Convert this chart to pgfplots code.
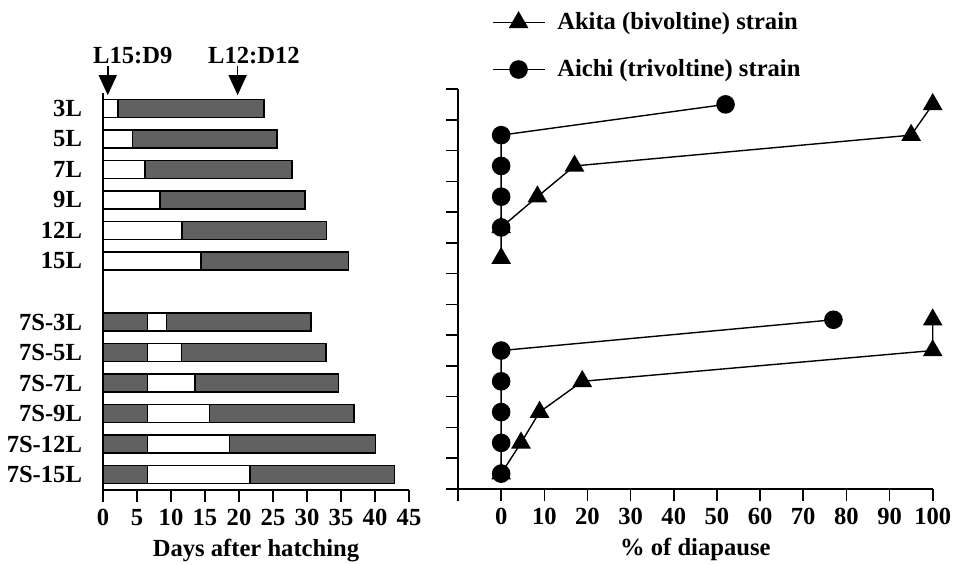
\documentclass[border=0pt]{standalone}
\usepackage{fontspec}
\setmainfont{Liberation Serif}
\usepackage{pgfplots}
\pgfplotsset{compat=1.18}
\usetikzlibrary{arrows.meta}

\definecolor{darkbar}{gray}{0.38}

\begin{document}
\begin{tikzpicture}[font=\fontsize{12.3}{14}\selectfont\bfseries]
\useasboundingbox (0,0) rectangle (487.5pt,282pt);

% Left panel: developmental time course of each photoperiod regime
\begin{axis}[
  at={(51.5pt,37pt)}, anchor=south west,
  scale only axis, width=153pt, height=198.5pt,
  xmin=0, xmax=45, ymin=0.5, ymax=13.5,
  axis x line=bottom, axis y line=left,
  axis line style={-, line width=0.9pt},
  xtick={0,5,...,45},
  ytick={1,2,3,4,5,6,8,9,10,11,12,13},
  yticklabels={7S-15L,7S-12L,7S-9L,7S-7L,7S-5L,7S-3L,15L,12L,9L,7L,5L,3L},
  tick align=outside, major tick length=6pt,
  xtick style={line width=0.8pt, black},
  ytick style={draw=none},
  yticklabel style={xshift=-1pt},
  /pgf/number format/assume math mode=true,
  xlabel={Days after hatching},
  clip=false,
]
% total larval period (dark = short day)
\addplot[xbar, bar shift=0pt, bar width=9pt, fill=darkbar, draw=black, line width=0.7pt]
  coordinates {(23.7,13) (25.6,12) (27.8,11) (29.7,10) (32.9,9) (36.1,8)
               (30.6,6) (32.8,5) (34.6,4) (36.9,3) (40.1,2) (42.9,1)};
% long-day interval
\addplot[xbar, bar shift=0pt, bar width=9pt, fill=white, draw=black, line width=0.7pt]
  coordinates {(2.2,13) (4.3,12) (6.2,11) (8.4,10) (11.6,9) (14.4,8)
               (9.3,6) (11.5,5) (13.5,4) (15.7,3) (18.6,2) (21.6,1)};
% initial 7 short days
\addplot[xbar, bar shift=0pt, bar width=9pt, fill=darkbar, draw=black, line width=0.7pt]
  coordinates {(6.5,6) (6.5,5) (6.5,4) (6.5,3) (6.5,2) (6.5,1)};

\draw[line width=0.8pt, -{Triangle[length=10pt,width=9pt]}] (axis cs:0.7,14.38) -- (axis cs:0.7,13.43);
\draw[line width=0.8pt, -{Triangle[length=10pt,width=9pt]}] (axis cs:19.8,14.38) -- (axis cs:19.8,13.43);
\node[anchor=base west, inner sep=0pt] at (axis cs:-1.5,14.47) {L15:D9};
\node[anchor=base west, inner sep=0pt] at (axis cs:15.4,14.47) {L12:D12};
\end{axis}

% Right panel: incidence of diapause
\begin{axis}[
  at={(229pt,37.5pt)}, anchor=south west,
  scale only axis, width=237.35pt, height=200pt,
  xmin=-10, xmax=100, ymin=0.5, ymax=13.5,
  axis x line=bottom, axis y line=left,
  axis line style={-, line width=0.9pt},
  xtick={-10,0,10,...,100},
  xticklabels={,0,10,20,30,40,50,60,70,80,90,100},
  ytick={0.5,1.5,...,13.5}, yticklabels={},
  tick align=outside, major tick length=6pt,
  tick style={line width=0.8pt, black},
  xlabel={\% of diapause},
  clip=false,
  legend style={draw=none, fill=none, inner sep=0pt,
    at={(rel axis cs:0.0705,1.2025)}, anchor=north west,
    row sep=9.5pt, cells={anchor=west},
    /tikz/every odd column/.append style={column sep=4pt}},
  legend image code/.code={%
    \draw[mark repeat=2,mark phase=2] plot coordinates {(0pt,0pt) (13pt,0pt) (26pt,0pt)};},
]
\addplot[black, line width=0.7pt, mark=triangle*, mark size=5pt]
  coordinates {(100,13) (95,12) (17,11) (8.4,10) (0,9) (0,8)};
\addlegendentry{Akita (bivoltine) strain}
\addplot[black, line width=0.7pt, mark=*, mark size=4.3pt]
  coordinates {(52,13) (0,12) (0,11) (0,10) (0,9)};
\addlegendentry{Aichi (trivoltine) strain}
\addplot[forget plot, black, line width=0.7pt, mark=triangle*, mark size=5pt]
  coordinates {(100,6) (100,5) (18.8,4) (8.9,3) (4.6,2) (0,1)};
\addplot[forget plot, black, line width=0.7pt, mark=*, mark size=4.3pt]
  coordinates {(77,6) (0,5) (0,4) (0,3) (0,2) (0,1)};
\end{axis}
\end{tikzpicture}
\end{document}
